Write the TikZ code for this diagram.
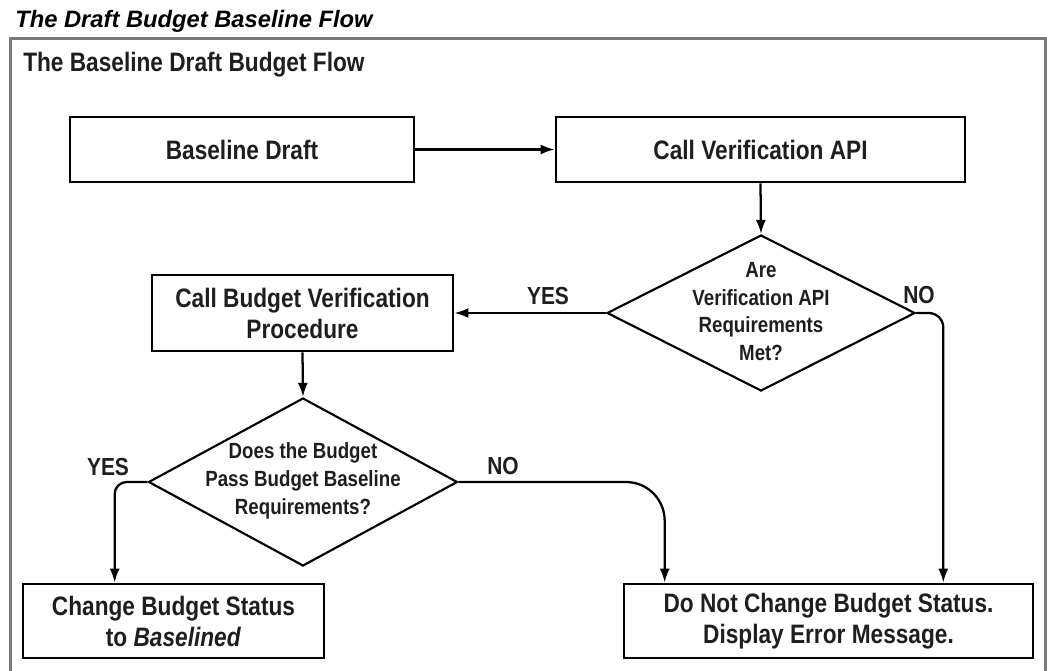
\documentclass[tikz,border=0pt]{standalone}
\usepackage{fontspec}
\setmainfont{Liberation Sans}
\setsansfont{Liberation Sans}
\newfontfamily\narrowsans[FakeStretch=0.85]{Liberation Sans}
\usetikzlibrary{arrows.meta,positioning,calc,shapes.geometric}
\tikzset{
  flowbox/.style = {rectangle, draw, line width=2pt, align=center, inner sep=0pt,
                    font=\narrowsans\bfseries\fontsize{20}{23.25}\selectfont},
  decision/.style = {diamond, draw, line width=1.6pt, inner sep=0pt},
  decisiontext/.style = {align=center, inner sep=0pt,
                         font=\narrowsans\bfseries\fontsize{16.5}{20.8}\selectfont},
  branchlabel/.style = {inner sep=0pt, font=\narrowsans\bfseries\fontsize{18.5}{20}\selectfont},
  flowline/.style = {->, line width=1.7pt},
}
\definecolor{framegray}{HTML}{7A7A7A}
\definecolor{inkgray}{HTML}{1E1E1E}

\begin{document}
\begin{tikzpicture}[x=0.75pt,y=-0.75pt,>={Latex[length=10.5pt,width=7.5pt]},text=inkgray]
  \useasboundingbox (0,0) rectangle (1047,671);

  % Title
  \node[anchor=base west, inner sep=0pt, text=black, font=\bfseries\itshape\fontsize{17.8}{20}\selectfont] (title) at (15,27)
    {The Draft Budget Baseline Flow};

  % Frame (open at the bottom)
  \draw[framegray, line width=2.25pt] (10,671) -- (10,38) -- (1045,38) -- (1045,671);

  % Subtitle
  \node[anchor=base west, inner sep=0pt, font=\narrowsans\bfseries\fontsize{20}{23}\selectfont] (subtitle) at (23,71)
    {The Baseline Draft Budget Flow};

  % === Top row ===
  \node[flowbox, minimum width=258pt, minimum height=48.75pt] (draft) at (242,149.5) {Baseline Draft};
  \node[flowbox, minimum width=306.75pt, minimum height=48.75pt] (verify) at (760.5,149.5) {Call Verification API};

  % First decision
  \node[decision, minimum width=231pt, minimum height=117pt] (q1) at (761,313) {};
  \node[decisiontext] (q1text) at (761,311.5) {Are\\Verification API\\Requirements\\Met?};

  \node[flowbox, minimum width=225.75pt, minimum height=57pt] (procbox) at (302.5,313)
    {Call Budget Verification\\Procedure};

  % Second decision
  \node[decision, minimum width=231.75pt, minimum height=126pt] (q2) at (303,482) {};
  \node[decisiontext] (q2text) at (303,481) {Does the Budget\\Pass Budget Baseline\\Requirements?};

  % === Bottom row ===
  \node[flowbox, minimum width=225.75pt, minimum height=55.5pt] (basebox) at (173.5,621)
    {Change Budget Status\\to \textit{Baselined}};
  \node[flowbox, minimum width=306.75pt, minimum height=55.5pt] (errbox) at (828.5,621)
    {Do Not Change Budget Status.\\Display Error Message.};

  % Branch labels
  \node[branchlabel] (yes1) at (548,296) {YES};
  \node[branchlabel] (no1) at (919,295) {NO};
  \node[branchlabel] (yes2) at (108,467) {YES};
  \node[branchlabel] (no2) at (503,466) {NO};

  % Edges
  \draw[flowline] (draft.east) -- (verify.west);
  \draw[flowline] (verify.south) -- (q1.north);
  \draw[flowline] (q1.west) -- (procbox.east);
  \draw[flowline] (procbox.south) -- (q2.north);
  \draw[flowline, rounded corners=11pt] (q1.east) -| ($(errbox.north east)+(-91,0)$);
  \draw[flowline, rounded corners=9pt] (q2.west) -| ($(basebox.north west)+(93,0)$);
  \draw[flowline, rounded corners=29pt] (q2.east) -| ($(errbox.north west)+(42,0)$);

\end{tikzpicture}
\end{document}
